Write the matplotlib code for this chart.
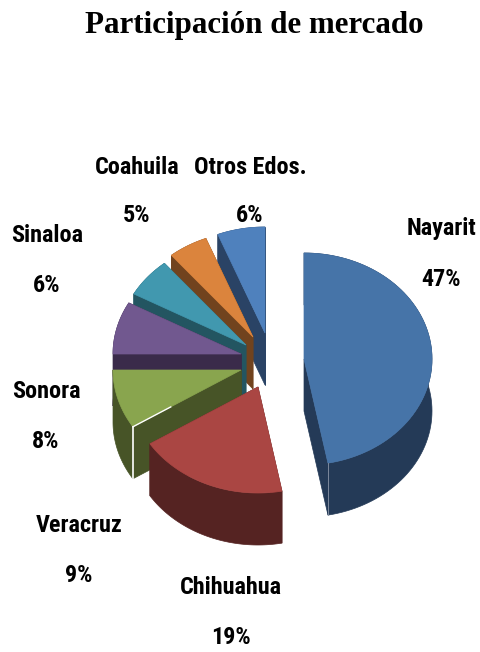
import numpy as np
import matplotlib
matplotlib.use('Agg')
import matplotlib.pyplot as plt
from matplotlib.patches import Polygon
import logging
logging.getLogger('matplotlib.font_manager').setLevel(logging.ERROR)

#Datos de la gráfica
estados = ['Nayarit', 'Chihuahua', 'Veracruz', 'Sonora', 'Sinaloa', 'Coahuila', 'Otros Edos.']
valores = [47, 19, 9, 8, 6, 5, 6]

#Colores de la cara superior y de los lados
colores = ['#4674A8', '#AA4643', '#89A54E', '#71588F', '#4198AF', '#DB843D', '#4F81BD']
lados = ['#243A57', '#552322', '#475427', '#3A2B4A', '#235561', '#71431E', '#2A4365']

#Vértice de cada rebanada (pixeles), la gráfica está explotada
centros_x = [304, 258, 241, 241, 246, 253, 265]
centros_y = [359, 387, 370, 354, 345, 337, 333]

#Posición de las etiquetas (nombre y porcentaje)
etiqueta_x = [441, 231, 79, 46, 47, 137, 250]
nombre_y = [228, 587, 525, 392, 235, 167, 167]
porcentaje_y = [280, 637, 575, 442, 286, 216, 216]

#Semiejes de la elipse y altura del pastel
rx = 128
ry = 106
alto = 52

#Fuente angosta para las etiquetas, si no hay se usa Roboto
fuente = ['Roboto Condensed', 'Liberation Sans Narrow', 'Open Sans Condensed', 'Roboto', 'DejaVu Sans']

fig = plt.figure(figsize=(4.8, 6.52), dpi=100)
ax = fig.add_axes([0, 0, 1, 1])
ax.set_xlim(0, 480)
ax.set_ylim(652, 0)
ax.axis('off')

fig.text(254 / 480, 1 - 26 / 652, 'Participación de mercado', ha='center', va='center',
         family='Liberation Serif', weight='bold', fontsize=22.3, color='black')

for i in range(len(estados)):
    ax.text(etiqueta_x[i], nombre_y[i], estados[i], ha='center', va='center',
            family=fuente, weight='bold', fontsize=17.4, zorder=1)
    ax.text(etiqueta_x[i], porcentaje_y[i], str(valores[i]) + '%', ha='center', va='center',
            family=fuente, weight='bold', fontsize=17.4, zorder=1)

#Ángulos acumulados, medidos desde arriba en sentido horario
acumulado = np.cumsum([0] + valores) / np.sum(valores) * 2 * np.pi

#Se dibuja de atrás hacia adelante
z = 2
for i in [6, 5, 4, 3, 2, 1, 0]:
    t = np.linspace(acumulado[i], acumulado[i + 1], 80)
    x = centros_x[i] + rx * np.sin(t)
    y = centros_y[i] - ry * np.cos(t)
    xc = centros_x[i]
    yc = centros_y[i]

    #Caras de corte
    for k in [0, -1]:
        cara = [[xc, yc], [x[k], y[k]], [x[k], y[k] + alto], [xc, yc + alto]]
        ax.add_patch(Polygon(cara, closed=True, facecolor=lados[i], edgecolor=lados[i], lw=0.5, zorder=z))

    #Borde exterior
    borde = np.concatenate([np.column_stack([x, y]), np.column_stack([x[::-1], y[::-1] + alto])])
    ax.add_patch(Polygon(borde, closed=True, facecolor=lados[i], edgecolor=lados[i], lw=0.5, zorder=z))

    #Cara superior
    tapa = np.concatenate([[[xc, yc]], np.column_stack([x, y])])
    ax.add_patch(Polygon(tapa, closed=True, facecolor=colores[i], edgecolor=colores[i], lw=0.5, zorder=z + 1))

    #Líneas claras de las aristas
    if estados[i] == 'Veracruz':
        ax.plot([x[0], x[0]], [y[0], y[0] + alto], color='white', lw=1.2, zorder=z + 1)
        ax.plot([x[0], x[0] + 0.35 * (xc - x[0])], [y[0], y[0] + 0.35 * (yc - y[0])],
                color='white', lw=1.0, zorder=z + 1)
    if estados[i] == 'Nayarit':
        ax.plot([x[-1], x[-1]], [y[-1], y[-1] + alto], color='#8A96A8', lw=0.6, zorder=z + 1)
    z = z + 2

fig.savefig('out.png', dpi=100, facecolor='white')
